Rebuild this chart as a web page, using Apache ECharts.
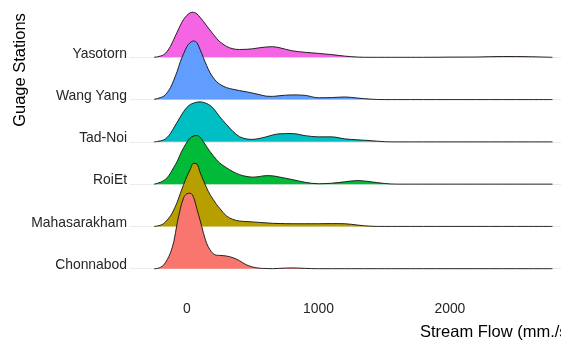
<!DOCTYPE html>
<html>
<head>
<meta charset="utf-8">
<script src="https://cdn.jsdelivr.net/npm/echarts@6/dist/echarts.min.js"></script>
<style>
html,body{margin:0;padding:0;background:#fff;}
#chart{width:561px;height:341px;}
</style>
</head>
<body>
<div id="chart"></div>
<script>
// Stations, bottom to top
const categories = ['Chonnabod', 'Mahasarakham', 'RoiEt', 'Tad-Noi', 'Wang Yang', 'Yasotorn'];
const fillColors = ['#F8766D', '#B79F00', '#00BA38', '#00BFC4', '#619CFF', '#F564E3'];
const xTicks = [0, 1000, 2000];

// Stream flow sample points (mm./s)
const flow = [-250,-225,-200,-175,-150,-125,-100,-75,-50,-25,0,25,50,75,100,125,150,175,200,225,250,
  300,350,400,450,500,550,600,650,700,
  800,900,1000,1100,1200,1300,1400,1500,1600,
  1800,2000,2200,2400,2600,2780];

// Relative density heights per station
const chonnabod = [0,0.2,1.5,4,9,16,27,45,60,71,75,75.5,71.5,60,48.5,36,25.4,19,15,13.5,13.3,
  12.7,11,8,4,1.7,0.5,0.2,0,0.3, 0.8,0.3,0,0,0,0,0,0,0, 0,0,0,0,0, 0];
const mahasarakham = [0,0.4,1.3,3,6.5,10.5,16.5,24,33,42,50,57,63,62.5,54,46,38.5,32,27,22,18,
  10.5,7,5.4,4.9,4.5,4,3.6,3.1,2.9, 2.7,2.7,2.7,2.8,2.7,1.3,0.2,0,0, 0,0,0,0,0, 0];
const roiEt = [0,0.8,2,3.7,6.5,11,16.8,22.5,30,36.5,42,46.2,48.2,48.6,47,42.5,37.5,32.6,28.5,24.5,21,
  16.5,12.5,9.5,7.8,7,7.6,8.5,8.3,7.2, 4.6,1.8,0.4,0.9,2.3,3.6,2.3,0.7,0, 0,0,0,0,0, 0];
const tadNoi = [0,0.4,1,2,4.5,8.5,14,19.5,25,30.3,34.5,37.3,38.7,39.7,40,39.5,38.3,36.5,33.5,29.5,25,
  17.5,10.5,5.2,3,2.5,3.4,4.9,6.8,8, 8.3,6.2,5,5,3,2,1.2,0.2,0, 0,0,0,0,0, 0];
const wangYang = [0.3,1,2,3.5,7,12,19.5,28,38,46,53,57,58.6,57,50,42,34,27,22,18,15.3,
  12,10.3,9,7.8,6.5,5,3.5,3.2,3.8, 4.7,4.2,1.8,2,2.6,1.5,0.4,0,0, 0,0,0,0,0, 0];
const yasotorn = [0,0.5,1.3,2.6,6,11,18,25,32,38,42,44.5,45,43.5,40,36,31.5,27.3,23,19,15.6,
  11,8.5,7.8,8,8.5,9.5,10.3,10.6,9.7, 6.5,5,3.9,2.7,1.2,0.2,0,0,0, 0,0.2,0.3,0.8,0.6, 0];

const heights = [chonnabod, mahasarakham, roiEt, tadNoi, wangYang, yasotorn];
const ridgeScale = 1 / 42.28; // density units per row

const font = "'Liberation Sans', Arial, sans-serif";
const series = [];

// vertical grid lines (panel grid)
series.push({
  type: 'line', data: [], z: 1, silent: true, clip: false,
  markLine: {
    silent: true, symbol: 'none', label: {show: false},
    lineStyle: {color: '#EBEBEB', width: 1, type: 'solid'},
    data: xTicks.map(v => [{coord: [v, -0.67]}, {coord: [v, 6.07]}])
  }
});

heights.forEach((h, i) => {
  const z = 10 + (categories.length - i) * 2;
  series.push({
    type: 'line', z: z, silent: true, clip: false,
    name: categories[i],
    showSymbol: false, symbol: 'none', smooth: 0.35,
    lineStyle: {color: '#111', width: 0.9},
    areaStyle: {color: fillColors[i], opacity: 1, origin: i},
    data: flow.map((x, k) => [x, i + h[k] * ridgeScale])
  });
});

const chart = echarts.init(document.getElementById('chart'), null, {renderer: 'canvas'});
chart.setOption({
  animation: false,
  backgroundColor: '#ffffff',
  grid: {left: 130, right: 0, top: 57.3, bottom: 72.3, containLabel: false},
  xAxis: {
    type: 'value', min: -433, max: 2845,
    axisLine: {show: false}, axisTick: {show: false},
    splitLine: {show: false},
    axisLabel: {
      customValues: xTicks,
      formatter: v => String(v),
      margin: 33, color: '#262626', fontSize: 13.9, fontFamily: font
    }
  },
  yAxis: {
    type: 'value', min: 0, max: 5, interval: 1,
    axisLine: {show: false}, axisTick: {show: false},
    splitLine: {show: true, lineStyle: {color: '#EBEBEB', width: 1}},
    axisLabel: {
      margin: 3, color: '#262626', fontSize: 13.9, fontFamily: font,
      verticalAlign: 'bottom', lineHeight: 7,
      formatter: v => categories[v] || ''
    }
  },
  graphic: [
    {type: 'text', x: 20, y: 70, rotation: Math.PI / 2,
      style: {text: 'Guage Stations', fill: '#000', font: '16.5px ' + font, align: 'center', verticalAlign: 'middle'}},
    {type: 'text', x: 420, y: 332,
      style: {text: 'Stream Flow (mm./s)', fill: '#000', font: '16.5px ' + font, align: 'left', verticalAlign: 'middle'}}
  ],
  series: series
});
</script>
</body>
</html>
